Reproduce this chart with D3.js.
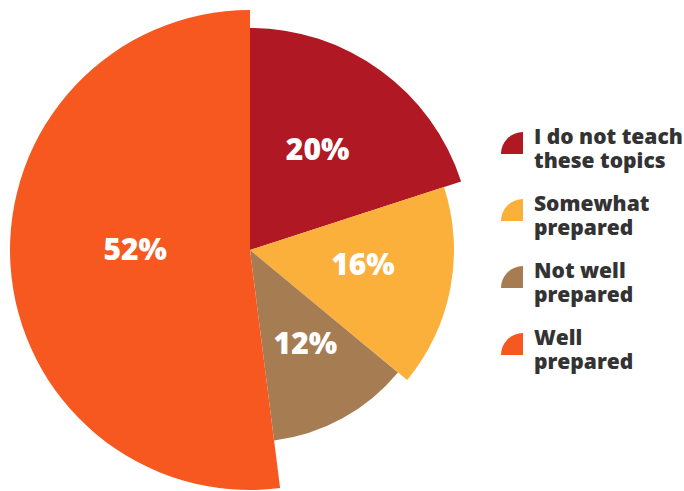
<!DOCTYPE html>
<html>
<head>
<script src="https://d3js.org/d3.v7.min.js"></script>
<style>
  html, body { margin: 0; padding: 0; background: #fff; }
  svg { display: block; }
  text { font-family: "Open Sans", Lato, sans-serif; font-weight: 800; }
</style>
</head>
<body>
<div id="chart"></div>
<script>
// survey answers, clockwise from 12 o'clock
var categories = ["I do not teach these topics", "Somewhat prepared", "Not well prepared", "Well prepared"];
var legendLines = [["I do not teach", "these topics"], ["Somewhat", "prepared"], ["Not well", "prepared"], ["Well", "prepared"]];
var values = [20, 16, 12, 52];
var colors = ["#b01823", "#fbb03b", "#a67c52", "#f7581f"];

var width = 684, height = 491;
var cx = 250, cy = 250;

var svg = d3.select("#chart").append("svg")
    .attr("width", width)
    .attr("height", height);

// each slice gets its own radius
var radius = d3.scaleLinear().domain([12, 20, 52]).range([192, 222, 240]);
var rScale = function(v) { return v === 16 ? 204 : radius(v); };

var pie = d3.pie().sort(null).value(function(d) { return d; });
var arcs = pie(values);

var g = svg.append("g").attr("transform", "translate(" + cx + "," + cy + ")");

g.selectAll("path.slice")
    .data(arcs)
    .enter()
    .append("path")
    .attr("class", "slice")
    .attr("fill", function(d, i) { return colors[i]; })
    .attr("d", function(d) {
        return d3.arc().innerRadius(0).outerRadius(rScale(d.data))(d);
    });

var labelArc = d3.arc().innerRadius(115).outerRadius(115);
g.selectAll("text.pct")
    .data(arcs)
    .enter()
    .append("text")
    .attr("class", "pct")
    .attr("transform", function(d) {
        var c = labelArc.centroid(d);
        return "translate(" + c[0] + "," + c[1] + ")";
    })
    .attr("text-anchor", "middle")
    .attr("dy", "0.1em")
    .attr("fill", "#fff")
    .style("font-size", "30px")
    .text(function(d) { return d.data + "%"; });

// legend
var legend = svg.append("g").attr("transform", "translate(501,132)");
var marker = d3.arc().innerRadius(0).outerRadius(22).startAngle(-Math.PI / 2).endAngle(0);

var item = legend.selectAll("g.item")
    .data(categories)
    .enter()
    .append("g")
    .attr("class", "item")
    .attr("transform", function(d, i) { return "translate(0," + (i * 67) + ")"; });

item.append("path")
    .attr("transform", "translate(22,22)")
    .attr("d", marker)
    .attr("fill", function(d, i) { return colors[i]; });

item.append("text")
    .attr("x", 33)
    .attr("y", 12)
    .attr("fill", "#333")
    .style("font-size", "21px")
    .selectAll("tspan")
    .data(function(d, i) { return legendLines[i]; })
    .enter()
    .append("tspan")
    .attr("x", 33)
    .attr("dy", function(d, j) { return j === 0 ? 0 : 24; })
    .text(function(d) { return d; });
</script>
</body>
</html>
